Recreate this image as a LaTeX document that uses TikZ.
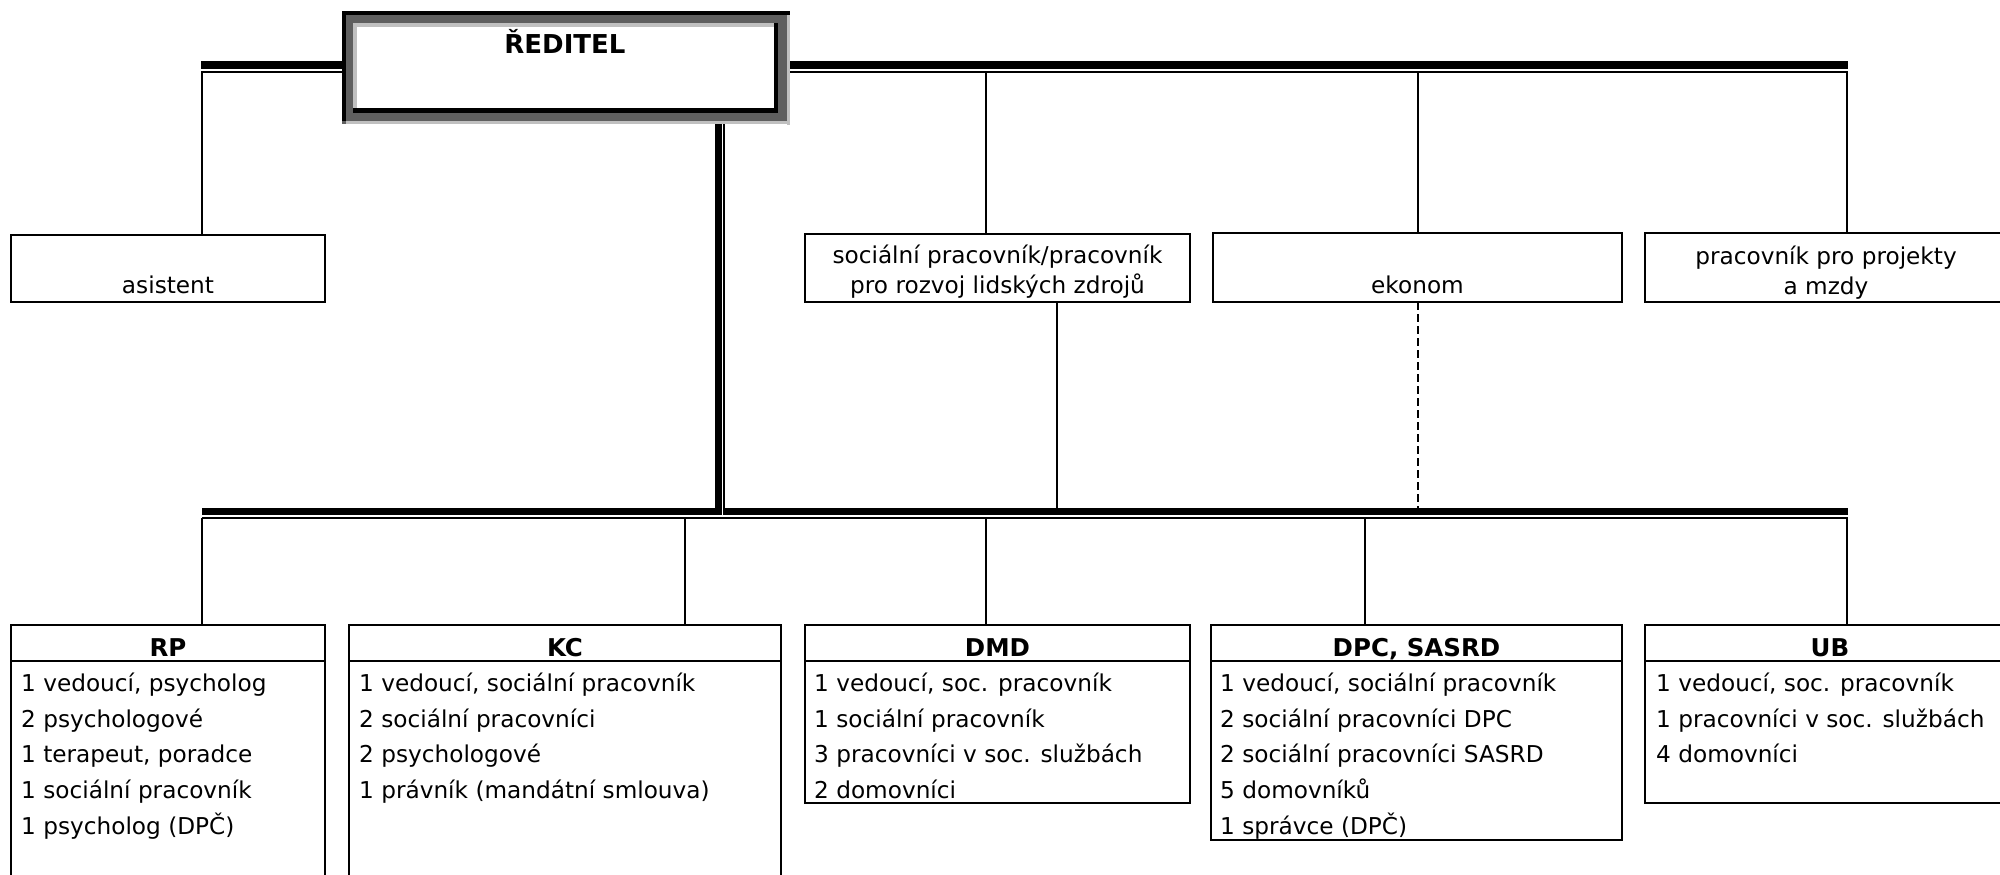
\documentclass[tikz,border=0pt]{standalone}
\usepackage{fontspec}
\setmainfont{DejaVu Sans}
\newcommand\bodyfont{\fontsize{23.2}{28}\selectfont}
\newcommand\headfont{\fontsize{24.5}{28}\selectfont\bfseries}
\definecolor{frdark}{HTML}{5F5F5F}
\definecolor{frlight}{HTML}{C0C0C0}
\tikzset{
  upbox/.style={draw, line width=2pt, inner sep=0pt, outer sep=0pt},
  lowbox/.style={draw, line width=2.7pt, inner sep=0pt, outer sep=0pt},
  conn/.style={line width=2pt},
  dashconn/.style={line width=1.8pt, dash pattern=on 8pt off 4pt},
  thickbus/.style={line width=7.5pt},
  thinbus/.style={line width=2pt},
  body/.style={font=\bodyfont, inner sep=0pt, anchor=base west},
  bodyc/.style={font=\bodyfont, inner sep=0pt, anchor=base},
  head/.style={font=\headfont, inner sep=0pt, anchor=base},
}
\begin{document}
\begin{tikzpicture}[x=1pt,y=-1pt]
\useasboundingbox (0,0) rectangle (2000,875);
\fill[white] (0,0) rectangle (2000,875);

% ---- bus coordinates
\coordinate (tbL) at (201,65);
\coordinate (tbR) at (1848,65);
\coordinate (ttL) at (201,71.7);
\coordinate (ttR) at (1848,71.7);
\coordinate (bbL) at (202,511.5);
\coordinate (bbM1) at (721.5,511.5);
\coordinate (bbM2) at (723,511.5);
\coordinate (bbR) at (1848,511.5);
\coordinate (btL) at (202,518);
\coordinate (btR) at (1848,518);

% ---- top buses
\draw[thinbus] (ttL) -- (ttR);
\draw[thickbus] (tbL) -- (tbR);
% ---- bottom buses
\draw[thinbus] (btL) -- (btR);
\draw[thickbus] (bbL) -- (bbM1);
\draw[thickbus] (bbM2) -- (bbR);

% ---- director box
\node[minimum width=448pt, minimum height=113pt, inner sep=0pt, outer sep=0pt] (dir) at (566,67.5) {};
\fill[frdark] (342,11) rectangle (790,124);
\fill[black] (342,11) rectangle (790,15);
\fill[black] (342,11) rectangle (346,121);
\fill[frlight] (787,15) rectangle (790,125);
\fill[frlight] (346,121) rectangle (790,124);
\fill[white] (357,27) rectangle (774,108);
\fill[frlight] (353,23) rectangle (778,27);
\fill[frlight] (353,23) rectangle (357,108);
\fill[black] (774,23) rectangle (778,113);
\fill[black] (353,108) rectangle (778,113);
\node[head, font=\fontsize{26}{30}\selectfont\bfseries] (dirtext) at (565,54) {ŘEDITEL};

% ---- main vertical (double line)
\coordinate (mvT) at (718,124);
\coordinate (mvB) at (718,515);
\coordinate (mv2T) at (724,124);
\coordinate (mv2B) at (724,515);
\draw[line width=7pt] (mvT) -- (mvB);
\draw[line width=2.2pt] (mv2T) -- (mv2B);

% ---- upper boxes
\node[upbox, minimum width=314pt, minimum height=67pt] (asist) at (168,268.5) {};
\node[upbox, minimum width=385pt, minimum height=68pt] (soc) at (997.5,268) {};
\node[upbox, minimum width=409pt, minimum height=69pt] (ekon) at (1417.5,267.5) {};
\node[upbox, minimum width=365pt, minimum height=69pt] (proj) at (1827.5,267.5) {};

\node[bodyc] (asistT) at (168,293) {asistent};
\node[bodyc] (socT1) at (997.5,263) {sociální pracovník/pracovník};
\node[bodyc] (socT2) at (997.5,293) {pro rozvoj lidských zdrojů};
\node[bodyc] (ekonT) at (1417.5,293) {ekonom};
\node[bodyc] (projT1) at (1826,264) {pracovník pro projekty};
\node[bodyc] (projT2) at (1826,294) {a mzdy};

% ---- connectors from top bus
\coordinate (ta) at (202,71.7);
\coordinate (ts) at (986,71.7);
\coordinate (te) at (1418,71.7);
\coordinate (tp) at (1847,71.7);
\draw[conn] (ta) -- (ta |- asist.north);
\draw[conn] (ts) -- (ts |- soc.north);
\draw[conn] (te) -- (te |- ekon.north);
\draw[conn] (tp) -- (tp |- proj.north);

% ---- connectors from upper boxes to bottom bus
\coordinate (sb) at (1057,507.5);
\coordinate (eb) at (1418,507.5);
\draw[conn] (sb |- soc.south) -- (sb);
\draw[dashconn] (eb |- ekon.south) -- (eb);

% ---- lower boxes
\node[lowbox, minimum width=314pt, minimum height=275pt] (rp) at (168,762.5) {};
\node[lowbox, minimum width=432pt, minimum height=275pt] (kc) at (565,762.5) {};
\node[lowbox, minimum width=385pt, minimum height=178pt] (dmd) at (997.5,714) {};
\node[lowbox, minimum width=411pt, minimum height=215pt] (dpc) at (1416.5,732.5) {};
\node[lowbox, minimum width=370pt, minimum height=178pt] (ub) at (1830,714) {};

\foreach \b in {rp,kc,dmd,dpc,ub}{
  \draw[line width=2.7pt] (\b.west |- 0,661) -- (\b.east |- 0,661);
}

\node[head] (rpH) at (168,656) {RP};
\node[head] (kcH) at (565,656) {KC};
\node[head] (dmdH) at (997.5,656) {DMD};
\node[head] (dpcH) at (1416.5,656) {DPC, SASRD};
\node[head] (ubH) at (1830,656) {UB};

\foreach \t [count=\i] in {{1 vedoucí, psycholog},{2 psychologové},{1 terapeut, poradce},{1 sociální pracovník},{1 psycholog (DPČ)}}
  \node[body] (rp\i) at ({21},{691.7+35.6*(\i-1)}) {\t};
\foreach \t [count=\i] in {{1 vedoucí, sociální pracovník},{2 sociální pracovníci},{2 psychologové},{1 právník (mandátní smlouva)}}
  \node[body] (kc\i) at ({359},{691.7+35.6*(\i-1)}) {\t};
\foreach \t [count=\i] in {{1 vedoucí, soc. pracovník},{1 sociální pracovník},{3 pracovníci v soc. službách},{2 domovníci}}
  \node[body] (dmd\i) at ({814},{691.7+35.6*(\i-1)}) {\t};
\foreach \t [count=\i] in {{1 vedoucí, sociální pracovník},{2 sociální pracovníci DPC},{2 sociální pracovníci SASRD},{5 domovníků},{1 správce (DPČ)}}
  \node[body] (dpc\i) at ({1220},{691.7+35.6*(\i-1)}) {\t};
\foreach \t [count=\i] in {{1 vedoucí, soc. pracovník},{1 pracovníci v soc. službách},{4 domovníci}}
  \node[body] (ub\i) at ({1656},{691.7+35.6*(\i-1)}) {\t};

% ---- connectors from bottom bus
\coordinate (b1) at (202,518);
\coordinate (b2) at (685,518);
\coordinate (b3) at (986,518);
\coordinate (b4) at (1365,518);
\coordinate (b5) at (1847,518);
\draw[conn] (b1) -- (b1 |- rp.north);
\draw[conn] (b2) -- (b2 |- kc.north);
\draw[conn] (b3) -- (b3 |- dmd.north);
\draw[conn] (b4) -- (b4 |- dpc.north);
\draw[conn] (b5) -- (b5 |- ub.north);
\end{tikzpicture}
\end{document}
